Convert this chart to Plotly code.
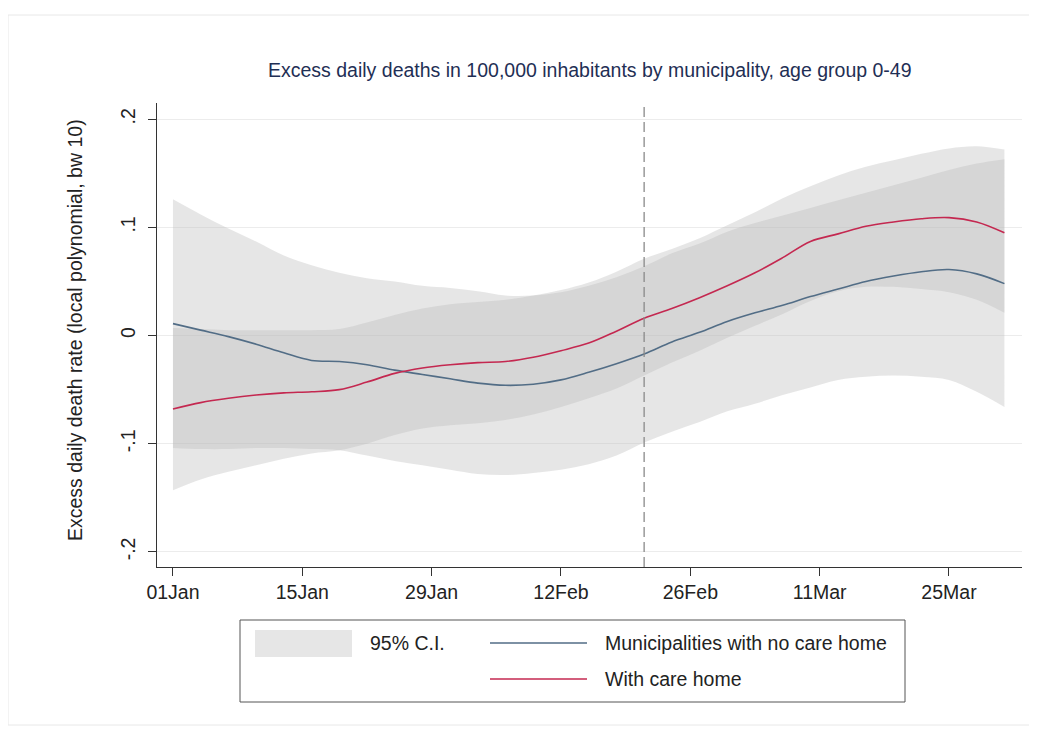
import plotly.graph_objects as go

# ---------------- data ----------------
dates = ["2020-01-01", "2020-01-04", "2020-01-07", "2020-01-10", "2020-01-13", "2020-01-16",
         "2020-01-19", "2020-01-22", "2020-01-25", "2020-01-28", "2020-01-31", "2020-02-03",
         "2020-02-06", "2020-02-09", "2020-02-12", "2020-02-15", "2020-02-18", "2020-02-21",
         "2020-02-24", "2020-02-27", "2020-03-01", "2020-03-04", "2020-03-07", "2020-03-10",
         "2020-03-13", "2020-03-16", "2020-03-19", "2020-03-22", "2020-03-25", "2020-03-28",
         "2020-03-31"]

no_care_home = [0.011, 0.005, -0.001, -0.008, -0.016, -0.023, -0.024, -0.027, -0.032, -0.036,
                -0.040, -0.044, -0.046, -0.045, -0.041, -0.034, -0.026, -0.017, -0.006, 0.003,
                0.013, 0.021, 0.028, 0.036, 0.043, 0.050, 0.055, 0.059, 0.061, 0.057, 0.048]
no_care_lo = [-0.104, -0.105, -0.105, -0.104, -0.104, -0.105, -0.106, -0.111, -0.116, -0.120,
              -0.124, -0.128, -0.129, -0.127, -0.124, -0.119, -0.111, -0.099, -0.089, -0.080,
              -0.070, -0.063, -0.055, -0.048, -0.041, -0.038, -0.037, -0.038, -0.041, -0.052,
              -0.066]
no_care_hi = [0.126, 0.112, 0.099, 0.087, 0.074, 0.065, 0.058, 0.053, 0.050, 0.046,
              0.044, 0.041, 0.037, 0.037, 0.040, 0.046, 0.054, 0.064, 0.076, 0.085,
              0.096, 0.104, 0.111, 0.118, 0.125, 0.132, 0.139, 0.146, 0.153, 0.159, 0.163]

care_home = [-0.068, -0.062, -0.058, -0.055, -0.053, -0.052, -0.050, -0.043, -0.035, -0.030,
             -0.027, -0.025, -0.024, -0.020, -0.014, -0.007, 0.004, 0.016, 0.025, 0.035,
             0.046, 0.058, 0.072, 0.087, 0.094, 0.101, 0.105, 0.108, 0.109, 0.105, 0.095]
care_lo = [-0.143, -0.133, -0.126, -0.120, -0.114, -0.109, -0.106, -0.100, -0.092, -0.086,
           -0.083, -0.081, -0.078, -0.073, -0.066, -0.058, -0.049, -0.037, -0.025, -0.014,
           -0.002, 0.009, 0.020, 0.032, 0.041, 0.045, 0.045, 0.043, 0.040, 0.033, 0.021]
care_hi = [0.007, 0.006, 0.005, 0.005, 0.005, 0.005, 0.006, 0.012, 0.019, 0.025,
           0.029, 0.031, 0.033, 0.037, 0.042, 0.049, 0.059, 0.071, 0.080, 0.090,
           0.102, 0.114, 0.127, 0.138, 0.148, 0.156, 0.162, 0.168, 0.173, 0.175, 0.172]

event_date = "2020-02-21"

x_tick_dates = ["2020-01-01", "2020-01-15", "2020-01-29", "2020-02-12",
                "2020-02-26", "2020-03-11", "2020-03-25"]
x_tick_labels = ["01Jan", "15Jan", "29Jan", "12Feb", "26Feb", "11Mar", "25Mar"]
y_tick_vals = [-0.2, -0.1, 0.0, 0.1, 0.2]
y_tick_labels = ["-.2", "-.1", "0", ".1", ".2"]

title_text = "Excess daily deaths in 100,000 inhabitants by municipality, age group 0-49"
y_title = "Excess daily death rate (local polynomial, bw 10)"
legend_ci = "95% C.I."
legend_no = "Municipalities with no care home"
legend_yes = "With care home"

# ---------------- style ----------------
OFF = 8                      # page body margin
W, H = 1037 - OFF, 733 - OFF
ML, MT = 157 - OFF, 103 - OFF
MR = W - (1022 - OFF)
MB = H - (567 - OFF)
PW, PH = W - ML - MR, H - MT - MB
FONT = "Liberation Sans, Arial, Helvetica, sans-serif"
BAND = "rgba(186,186,186,0.36)"
BLUE = "#526d86"
RED = "#c42850"
TXT = "#222222"


def px(x):
    return (x - OFF - ML) / PW


def py(y):
    return (MT + PH - (y - OFF)) / PH


fig = go.Figure()

for lo, hi in [(no_care_lo, no_care_hi), (care_lo, care_hi)]:
    fig.add_trace(go.Scatter(x=dates, y=lo, mode="lines", line=dict(width=0, shape="spline"),
                             showlegend=False, hoverinfo="skip"))
    fig.add_trace(go.Scatter(x=dates, y=hi, mode="lines", line=dict(width=0, shape="spline"),
                             fill="tonexty", fillcolor=BAND, showlegend=False, hoverinfo="skip"))

fig.add_trace(go.Scatter(x=dates, y=no_care_home, mode="lines", name=legend_no,
                         line=dict(color=BLUE, width=1.6, shape="spline"), showlegend=False))
fig.add_trace(go.Scatter(x=dates, y=care_home, mode="lines", name=legend_yes,
                         line=dict(color=RED, width=1.6, shape="spline"), showlegend=False))

shapes = [
    dict(type="line", xref="x", yref="paper", x0=event_date, x1=event_date, y0=0, y1=1,
         line=dict(color="#8a8a8a", width=1.3, dash="10px,5px")),
    dict(type="rect", xref="paper", yref="paper", x0=px(8), x1=px(1030), y0=py(725), y1=py(15),
         line=dict(color="#e8e8e8", width=1), layer="below"),
    dict(type="rect", xref="paper", yref="paper", x0=px(240), x1=px(905), y0=py(702), y1=py(620),
         line=dict(color="#555555", width=1), fillcolor="white"),
    dict(type="rect", xref="paper", yref="paper", x0=px(255), x1=px(352), y0=py(657), y1=py(630),
         line=dict(width=0), fillcolor=BAND),
    dict(type="line", xref="paper", yref="paper", x0=px(490), x1=px(587), y0=py(643), y1=py(643),
         line=dict(color=BLUE, width=1.6)),
    dict(type="line", xref="paper", yref="paper", x0=px(490), x1=px(587), y0=py(679), y1=py(679),
         line=dict(color=RED, width=1.6)),
]

annotations = [
    dict(text=title_text, xref="paper", yref="paper", x=0.5, y=py(70), showarrow=False,
         xanchor="center", yanchor="middle", font=dict(size=19.5, color="#1f2f55", family=FONT)),
    dict(text=y_title, xref="paper", yref="paper", x=px(75), y=py(330), showarrow=False,
         textangle=-90, xanchor="center", yanchor="middle",
         font=dict(size=19.5, color=TXT, family=FONT)),
    dict(text=legend_ci, xref="paper", yref="paper", x=px(368), y=py(643), showarrow=False,
         xanchor="left", yanchor="middle", font=dict(size=19.5, color=TXT, family=FONT)),
    dict(text=legend_no, xref="paper", yref="paper", x=px(603), y=py(643), showarrow=False,
         xanchor="left", yanchor="middle", font=dict(size=19.5, color=TXT, family=FONT)),
    dict(text=legend_yes, xref="paper", yref="paper", x=px(603), y=py(679), showarrow=False,
         xanchor="left", yanchor="middle", font=dict(size=19.5, color=TXT, family=FONT)),
]

fig.update_layout(
    width=W, height=H,
    margin=dict(l=ML, r=MR, t=MT, b=MB),
    paper_bgcolor="white", plot_bgcolor="white",
    shapes=shapes, annotations=annotations, showlegend=False,
    font=dict(family=FONT, color=TXT),
    xaxis=dict(type="date", range=["2019-12-30 06:30", "2020-04-01 21:40"],
               tickmode="array", tickvals=x_tick_dates, ticktext=x_tick_labels,
               ticks="outside", ticklen=8, tickcolor="#333", tickwidth=1,
               showline=True, linecolor="#333", linewidth=1, showgrid=False, zeroline=False,
               tickfont=dict(size=19.5, color=TXT, family=FONT)),
    yaxis=dict(range=[-0.214, 0.215], tickmode="array", tickvals=y_tick_vals,
               ticktext=y_tick_labels, tickangle=-90,
               ticks="outside", ticklen=8, tickcolor="#333", tickwidth=1,
               showline=True, linecolor="#333", linewidth=1, showgrid=True,
               gridcolor="#ececec", gridwidth=1, zeroline=False, ticklabelstandoff=5,
               tickfont=dict(size=19.5, color=TXT, family=FONT)),
)

fig.write_html("out.html")
